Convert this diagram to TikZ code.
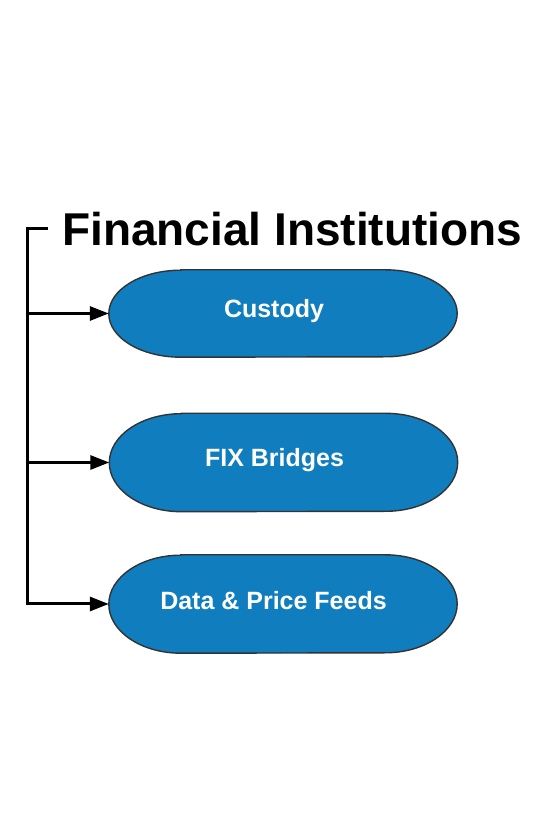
\documentclass[tikz,border=0pt]{standalone}
\usepackage{fontspec}
\setmainfont{Liberation Sans}
\usetikzlibrary{arrows.meta,calc,backgrounds}
\definecolor{pillblue}{HTML}{0F7DBE}
\tikzset{
  pill/.style={rectangle, draw=none, minimum width=348pt, inner sep=0pt},
  pillline/.style={draw=black!80, line width=1.4pt, fill=pillblue},
  pilltext/.style={text=white, inner sep=0pt, font=\fontsize{25}{28}\selectfont\bfseries},
  link/.style={line width=3pt, -{Triangle[length=19pt,width=14pt]}},
  bracket/.style={line width=3pt}
}
\newcommand\drawpill[2]{%
  \begin{pgfonlayer}{background}
  \path[pillline] ($(#1.north west)+(72,0)$) -- ($(#1.north east)+(-72,0)$)
    arc[start angle=90,end angle=-90,x radius=72,y radius=#2]
    -- ($(#1.south west)+(72,0)$)
    arc[start angle=270,end angle=90,x radius=72,y radius=#2] -- cycle;
  \end{pgfonlayer}}
\begin{document}
\begin{tikzpicture}[x=1pt,y=1pt]
\useasboundingbox (0,0) rectangle (541,820);
\node[font=\fontsize{46}{52}\selectfont\bfseries, anchor=base west, inner sep=0pt] (title) at (62,574) {Financial Institutions};
\node[pill, minimum height=87pt] (cust) at (283,506.5) {};
\node[pill, minimum height=98pt] (fix) at (283.5,357.5) {};
\node[pill, minimum height=98pt] (data) at (283,216) {};
\drawpill{cust}{43.5}
\drawpill{fix}{49}
\drawpill{data}{49}
\node[pilltext] (custt) at (274,508.5) {Custody};
\node[pilltext] (fixt) at (274.5,360) {FIX Bridges};
\node[pilltext] (datat) at (273.5,219) {Data \& Price Feeds};
\coordinate (top) at (27,591);
\coordinate (topend) at (48,591);
\coordinate (b1) at (27,506.5);
\coordinate (b2) at (27,357.5);
\coordinate (b3) at (27,216);
\draw[bracket] (topend) -- (top) -- (b3);
\draw[link] (b1) -- (cust.west);
\draw[link] (b2) -- (fix.west);
\draw[link] ([xshift=-1.5pt]b3) -- (data.west);
\end{tikzpicture}
\end{document}
